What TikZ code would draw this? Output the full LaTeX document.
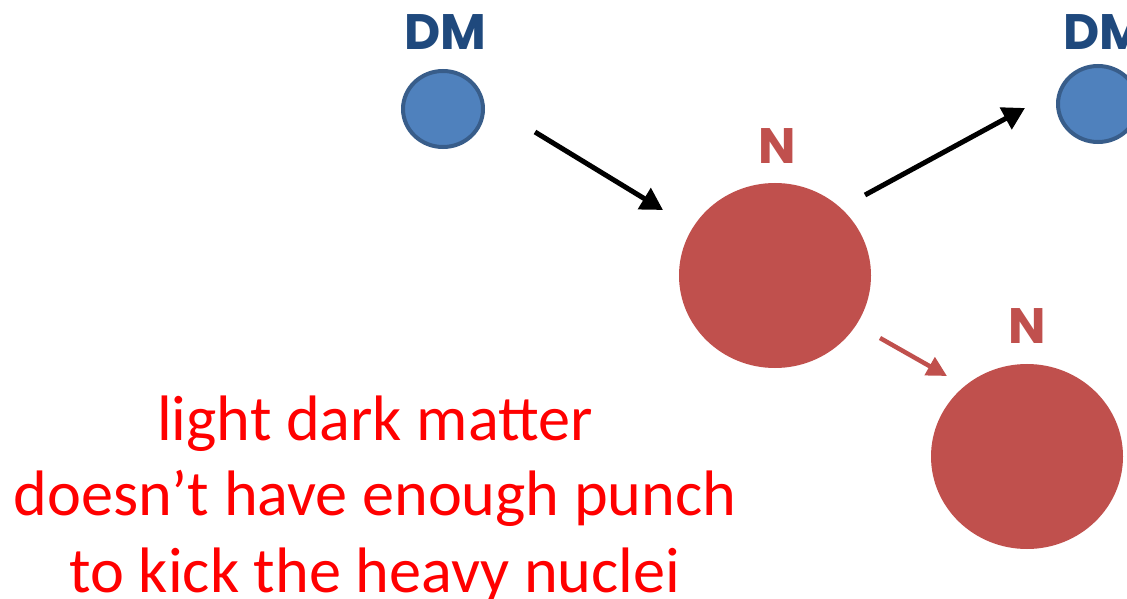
\documentclass[tikz,border=0pt]{standalone}
\usepackage{fontspec}
\setmainfont{Carlito}
\newfontfamily\lblfont{Poppins}
\usetikzlibrary{shapes.geometric,arrows.meta}
\definecolor{dmfill}{HTML}{4F81BD}
\definecolor{dmline}{HTML}{385D8A}
\definecolor{dmtext}{HTML}{1F497D}
\definecolor{nred}{HTML}{C0504D}
\tikzset{
  dmball/.style={ellipse, fill=dmfill, draw=dmline, line width=4bp, minimum width=80bp, minimum height=76bp, inner sep=0pt},
  nball/.style={ellipse, fill=nred, minimum width=192bp, minimum height=185bp, inner sep=0pt},
  dmlbl/.style={text=dmtext, font=\lblfont\bfseries\fontsize{50}{50}\selectfont, inner sep=0pt},
  nlbl/.style={text=nred, font=\lblfont\bfseries\fontsize{50}{50}\selectfont, inner sep=0pt},
  karrow/.style={line width=5bp, -{Triangle[length=22bp,width=24bp]}},
  rarrow/.style={line width=4.5bp, draw=nred, -{Triangle[length=20bp,width=20bp]}},
  caption/.style={text=red, font=\fontsize{64.5}{77}\selectfont, inner sep=0pt, anchor=base}
}
\begin{document}
\begin{tikzpicture}[x=1bp,y=-1bp]
\useasboundingbox (0,0) rectangle (1127,599);
\clip (0,0) rectangle (1127,599);
\node[dmlbl, anchor=base] (dm1l) at (445,50) {DM};
\node[dmball] (dm1) at (443,109) {};
\node[nlbl, anchor=base] (n1l) at (777,164) {N};
\node[nball] (n1) at (775,275.5) {};
\node[dmlbl, anchor=base west] (dm2l) at (1063,50) {DM};
\node[dmball] (dm2) at (1098,104) {};
\node[nlbl, anchor=base] (n2l) at (1027,343) {N};
\node[nball] (n2) at (1027,456.5) {};
\coordinate (a1s) at (535,132);
\coordinate (a1e) at (663,210);
\coordinate (a2s) at (865,195);
\coordinate (a2e) at (1025,108);
\coordinate (a3s) at (880,338);
\coordinate (a3e) at (947,376);
\draw[karrow] (a1s) -- (a1e);
\draw[karrow] (a2s) -- (a2e);
\draw[rarrow] (a3s) -- (a3e);
\node[caption] (t1) at (375,440) {light dark matter};
\node[caption] (t2) at (375,515) {doesn’t have enough punch};
\node[caption] (t3) at (375,592) {to kick the heavy nuclei};
\end{tikzpicture}
\end{document}
